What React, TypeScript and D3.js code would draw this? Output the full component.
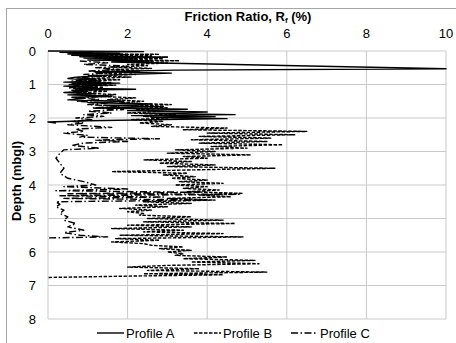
import React from 'react'
import * as d3 from 'd3'

// [depth (m), friction ratio (%)]
const profileA: [number, number][] = [
  [0.0, 0.0], [0.02, 2.4], [0.04, 0.3], [0.07, 1.8], [0.09, 0.5], [0.11, 2.0], [0.13, 0.6],
  [0.15, 1.5], [0.17, 0.8], [0.19, 3.0], [0.21, 0.9], [0.24, 2.2], [0.27, 1.0], [0.3, 2.6],
  [0.33, 1.6], [0.36, 2.8], [0.53, 10.0], [0.57, 3.2], [0.62, 1.2], [0.66, 3.1], [0.72, 1.5],
  [0.78, 0.7], [0.82, 0.5], [0.86, 1.0], [0.9, 1.3], [0.93, 0.4], [0.96, 1.8], [0.99, 0.6],
  [1.02, 1.5], [1.05, 0.4], [1.08, 1.2], [1.11, 0.7], [1.14, 2.2], [1.17, 0.6], [1.2, 1.0],
  [1.24, 0.4], [1.28, 1.2], [1.31, 0.5], [1.35, 1.6], [1.38, 0.6], [1.42, 0.9], [1.46, 0.5],
  [1.5, 1.9], [1.54, 1.0], [1.58, 2.6], [1.62, 1.4], [1.66, 2.9], [1.7, 1.2], [1.74, 3.5],
  [1.78, 2.0], [1.82, 4.0], [1.86, 2.4], [1.9, 4.7], [1.93, 2.1], [1.96, 4.2], [1.99, 2.6],
  [2.02, 4.5], [2.08, 1.0], [2.12, 0.0], [2.15, 0.2],
]

const profileB: [number, number][] = [
  [0.08, 0.8], [0.1, 2.8], [0.12, 0.6], [0.14, 2.6], [0.16, 1.0], [0.18, 3.0], [0.2, 1.2],
  [0.23, 2.9], [0.26, 1.4], [0.29, 3.3], [0.32, 1.8], [0.36, 3.0], [0.4, 2.0], [0.44, 2.5],
  [0.48, 1.6], [0.52, 2.6], [0.56, 1.5], [0.6, 2.3], [0.65, 1.2], [0.7, 2.2], [0.74, 1.0],
  [0.78, 2.1], [0.82, 0.9], [0.86, 1.8], [0.9, 0.8], [0.94, 1.6], [0.98, 0.6], [1.02, 1.7],
  [1.06, 0.9], [1.1, 1.4], [1.15, 0.7], [1.2, 1.5], [1.25, 0.8], [1.3, 1.7], [1.35, 1.2],
  [1.4, 2.2], [1.45, 1.5], [1.5, 2.4], [1.55, 1.8], [1.6, 3.1], [1.65, 2.1], [1.7, 3.0],
  [1.75, 2.2], [1.8, 2.9], [1.85, 2.0], [1.9, 3.2], [1.95, 2.4], [2.0, 3.0], [2.05, 2.1],
  [2.1, 2.9], [2.15, 2.3], [2.2, 3.1], [2.25, 2.6], [2.3, 4.5], [2.35, 3.4], [2.4, 6.5],
  [2.45, 4.0], [2.5, 6.2], [2.55, 3.8], [2.6, 5.6], [2.65, 3.6], [2.7, 5.5], [2.75, 3.8],
  [2.8, 5.9], [2.85, 4.1], [2.9, 5.0], [2.95, 3.2], [3.0, 4.2], [3.05, 3.0], [3.1, 5.1],
  [3.15, 3.4], [3.2, 4.0], [3.25, 2.4], [3.3, 3.6], [3.35, 2.8], [3.4, 4.2], [3.45, 3.0],
  [3.5, 5.7], [3.55, 3.6], [3.6, 1.6], [3.65, 3.5], [3.7, 2.9], [3.75, 3.7], [3.8, 3.1],
  [3.85, 4.0], [3.9, 3.3], [3.95, 4.4], [4.0, 3.2], [4.05, 4.0], [4.1, 3.4], [4.15, 4.3],
  [4.2, 3.5], [4.25, 4.9], [4.3, 3.8], [4.35, 4.6], [4.4, 3.0], [4.45, 4.2], [4.5, 2.4],
  [4.55, 3.6], [4.6, 2.2], [4.65, 3.0], [4.7, 1.8], [4.75, 2.6], [4.8, 2.0], [4.85, 2.4],
  [4.9, 2.3], [4.95, 3.6], [5.0, 2.5], [5.05, 4.4], [5.1, 2.4], [5.15, 4.7], [5.2, 2.0],
  [5.25, 3.6], [5.3, 1.6], [5.35, 3.4], [5.4, 2.4], [5.45, 4.4], [5.5, 1.8], [5.55, 4.9],
  [5.6, 1.7], [5.65, 2.8], [5.7, 1.6], [5.75, 2.4], [5.8, 2.6], [5.85, 3.4], [5.9, 2.8],
  [5.95, 3.6], [6.0, 3.0], [6.05, 3.4], [6.1, 3.2], [6.15, 4.5], [6.2, 3.4], [6.25, 5.2],
  [6.3, 3.6], [6.35, 5.3], [6.4, 3.0], [6.45, 2.0], [6.5, 3.8], [6.55, 2.5], [6.6, 5.5],
  [6.65, 2.4], [6.68, 4.4], [6.72, 2.0], [6.76, 0.0],
]

const profileC: [number, number][] = [
  [0.3, 0.8], [0.35, 1.5], [0.4, 0.9], [0.45, 2.0], [0.5, 1.2], [0.55, 1.8], [0.6, 1.0],
  [0.65, 1.6], [0.7, 0.9], [0.75, 1.4], [0.8, 0.7], [0.85, 1.3], [0.9, 0.6], [0.95, 1.2],
  [1.0, 0.5], [1.05, 1.0], [1.1, 0.5], [1.15, 1.1], [1.2, 0.6], [1.25, 0.9], [1.3, 0.7],
  [1.35, 1.6], [1.4, 0.8], [1.45, 1.3], [1.5, 0.7], [1.55, 1.5], [1.6, 1.0], [1.65, 1.8],
  [1.7, 1.1], [1.75, 1.9], [1.8, 1.0], [1.85, 1.6], [1.9, 0.9], [1.95, 1.4], [2.0, 0.7],
  [2.05, 1.1], [2.1, 0.6], [2.15, 0.9], [2.2, 0.5], [2.28, 1.6], [2.33, 0.7], [2.4, 0.9],
  [2.45, 0.4], [2.52, 1.0], [2.57, 0.8], [2.62, 2.8], [2.66, 1.2], [2.7, 2.0], [2.75, 0.9],
  [2.82, 0.6], [2.9, 1.3], [2.95, 0.4], [3.05, 0.3], [3.2, 0.2], [3.35, 0.3], [3.5, 0.4],
  [3.65, 0.3], [3.8, 0.5], [3.9, 0.9], [4.0, 1.2], [4.05, 0.4], [4.12, 2.0], [4.17, 0.2],
  [4.22, 3.8], [4.26, 0.5], [4.28, 4.8], [4.32, 0.3], [4.36, 2.9], [4.4, 0.4], [4.45, 4.0],
  [4.5, 0.2], [4.58, 0.3], [4.65, 0.2], [4.75, 0.4], [4.85, 0.3], [4.95, 0.5], [5.05, 0.4],
  [5.15, 0.7], [5.25, 0.5], [5.35, 0.9], [5.42, 0.4], [5.5, 0.8], [5.55, 1.5], [5.58, 0.0],
]

const seriesNames = ['Profile A', 'Profile B', 'Profile C']
const xTicks = [0, 2, 4, 6, 8, 10]
const yTicks = [0, 1, 2, 3, 4, 5, 6, 7, 8]

const W = 456
const H = 343
const font = '"Liberation Sans", Arial, sans-serif'

const dashes = ['', '3.5,1.5', '7,2.5,1.5,2.5']

export default function App() {
  const x = d3.scaleLinear().domain([0, 10]).range([48, 446])
  const y = d3.scaleLinear().domain([0, 8]).range([51, 319])

  const line = d3
    .line<[number, number]>()
    .x((d) => x(d[1]))
    .y((d) => y(d[0]))

  const series = [profileA, profileB, profileC]
  const legendX = [97, 194, 291]

  return (
    <svg
      width={W}
      height={H}
      style={{ position: 'absolute', left: 0, top: 0, background: '#fff' }}
      fontFamily={font}
    >
      <rect x={6.5} y={8.5} width={470} height={360} fill="#fff" stroke="#a6a6a6" />

      {/* grid */}
      {xTicks.map((t) => (
        <line key={'gx' + t} x1={x(t)} x2={x(t)} y1={y(0)} y2={y(8)} stroke="#c9c9c9" />
      ))}
      {yTicks.map((t) => (
        <line key={'gy' + t} x1={x(0)} x2={x(10)} y1={y(t)} y2={y(t)} stroke="#c9c9c9" />
      ))}

      {/* axes labels */}
      {xTicks.map((t) => (
        <text key={'tx' + t} x={x(t)} y={38} textAnchor="middle" fontSize={13} fill="#000">
          {t}
        </text>
      ))}
      {yTicks.map((t) => (
        <text
          key={'ty' + t}
          x={36}
          y={y(t)}
          textAnchor="end"
          dominantBaseline="central"
          fontSize={13}
          fill="#000"
        >
          {t}
        </text>
      ))}

      <text x={248} y={21} textAnchor="middle" fontSize={13} fontWeight="bold" fill="#000">
        Friction Ratio, R
        <tspan fontSize={8} dy={2}>f</tspan>
        <tspan dy={-2}> (%)</tspan>
      </text>
      <text
        transform="translate(21,181) rotate(-90)"
        textAnchor="middle"
        fontSize={13}
        fontWeight="bold"
        fill="#000"
      >
        Depth (mbgl)
      </text>

      {/* data */}
      {series.map((s, i) => (
        <path
          key={'s' + i}
          d={line(s) || ''}
          fill="none"
          stroke="#000"
          strokeWidth={1.4}
          strokeDasharray={dashes[i] || undefined}
          strokeLinejoin="round"
        />
      ))}

      {/* legend */}
      {seriesNames.map((n, i) => (
        <g key={n}>
          <line
            x1={legendX[i]}
            x2={legendX[i] + 27}
            y1={333}
            y2={333}
            stroke="#000"
            strokeWidth={1.4}
            strokeDasharray={dashes[i] || undefined}
          />
          <text x={legendX[i] + 29} y={333} dominantBaseline="central" fontSize={13} fill="#000">
            {n}
          </text>
        </g>
      ))}
    </svg>
  )
}
